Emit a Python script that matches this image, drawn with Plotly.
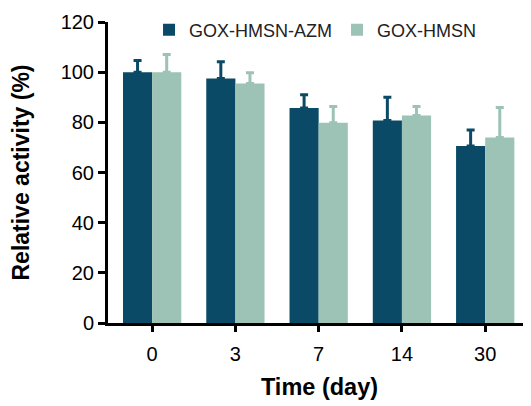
import plotly.graph_objects as go

days = ["0", "3", "7", "14", "30"]
azm_vals = [100, 97.5, 85.7, 80.7, 70.6]
azm_err = [4.7, 6.7, 5.3, 9.3, 6.3]
hmsn_vals = [100, 95.5, 79.8, 82.7, 74.0]
hmsn_err = [7.0, 4.3, 6.5, 3.6, 11.9]
y_ticks = [0, 20, 40, 60, 80, 100, 120]

dark = "#0b4a66"
light = "#9cc3b5"
font = "Liberation Sans, Arial, sans-serif"

fig = go.Figure()
fig.add_trace(go.Bar(
    x=days, y=azm_vals, name="GOX-HMSN-AZM", marker=dict(color=dark, line_width=0),
    error_y=dict(type="data", array=azm_err, symmetric=False, arrayminus=[0]*5,
                 color=dark, thickness=3, width=4),
))
fig.add_trace(go.Bar(
    x=days, y=hmsn_vals, name="GOX-HMSN", marker=dict(color=light, line_width=0),
    error_y=dict(type="data", array=hmsn_err, symmetric=False, arrayminus=[0]*5,
                 color=light, thickness=3, width=4),
))

# page body has an 8px margin, so the figure is sized to fit the window from there
fig.update_layout(
    width=523, height=398,
    margin=dict(l=100, r=0, t=14, b=83, autoexpand=False),
    paper_bgcolor="white", plot_bgcolor="white",
    barmode="group", bargap=0.3, bargroupgap=0,
    font=dict(family=font, color="black"),
    showlegend=True,
    legend=dict(orientation="h", x=0.097, y=0.973, xanchor="left", yanchor="middle",
                font=dict(size=18, color="#222"), bgcolor="rgba(0,0,0,0)",
                itemwidth=30, tracegroupgap=0, entrywidth=143),
)
fig.update_xaxes(
    type="category", range=[-0.53, 4.55], automargin=False,
    showline=True, linecolor="black", linewidth=3,
    ticks="outside", ticklen=6, tickwidth=3, tickcolor="black",
    tickfont=dict(size=20, family=font), ticklabelstandoff=5,
    title=dict(text="<b>Time (day)</b>", font=dict(size=23.5, family=font), standoff=15),
    showgrid=False, zeroline=False,
)
fig.update_yaxes(
    range=[0, 120], tickvals=y_ticks, automargin=False,
    showline=True, linecolor="black", linewidth=3,
    ticks="outside", ticklen=7, tickwidth=3, tickcolor="black",
    tickfont=dict(size=20, family=font),
    title=dict(text="<b>Relative activity (%)</b>", font=dict(size=23, family=font), standoff=26),
    showgrid=False, zeroline=False,
)

fig.write_html("out.html")
